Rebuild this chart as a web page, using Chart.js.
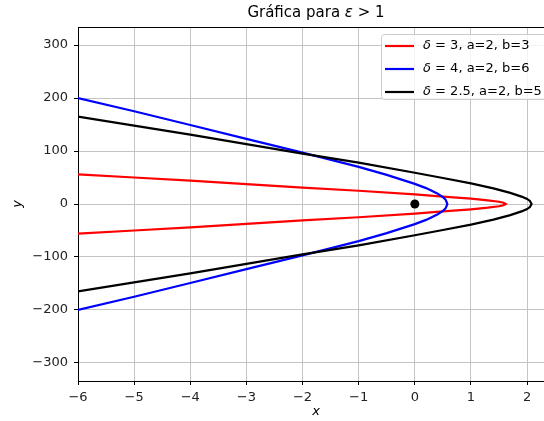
<!DOCTYPE html>
<html>
<head>
<meta charset="utf-8">
<title>Gráfica para ε > 1</title>
<script src="https://cdn.jsdelivr.net/npm/chart.js@4.4.1/dist/chart.umd.min.js"></script>
<style>
  html, body { margin: 0; padding: 0; background: #fff; overflow: hidden; }
  #wrap { width: 544px; height: 421px; overflow: hidden; }
  canvas { display: block; }
</style>
</head>
<body>
<!-- the plot runs past the right edge of the page, so the canvas is a bit wider than the frame -->
<div id="wrap"><canvas id="chart" width="549" height="421"></canvas></div>
<script>
// each curve: x samples from the left edge to the vertex, upper and lower branch
const redX      = [-6, -5, -4, -3, -2, -1, 0, 0.5, 1, 1.3, 1.5, 1.58, 1.62];
const redUpper  = [56, 50, 44, 37.5, 31, 25, 18, 14, 10, 7, 4.2, 2.4, 0];
const redLower  = [-56, -50, -44, -37.5, -31, -25, -18, -14, -10, -7, -4.2, -2.4, 0];

const blueX     = [-6, -5, -4, -3, -2, -1, -0.5, 0, 0.2, 0.4, 0.5, 0.55, 0.58];
const blueUpper = [200, 175, 149, 123, 97, 70, 55, 38, 30, 20, 13, 8, 0];
const blueLower = [-200, -175, -149, -123, -97, -70, -55, -38, -30, -20, -13, -8, 0];

const blackX     = [-6, -5, -4, -3, -2, -1, 0, 0.5, 1, 1.4, 1.7, 1.9, 2, 2.05, 2.08];
const blackUpper = [165, 148, 131, 113, 95, 78, 59, 49, 39, 29.5, 21, 14, 9.5, 5.7, 0];
const blackLower = [-165, -148, -131, -113, -95, -78, -59, -49, -39, -29.5, -21, -14, -9.5, -5.7, 0];

const focusX = [0];
const focusY = [0];

const legendValues = ['3, a=2, b=3', '4, a=2, b=6', '2.5, a=2, b=5'];
const legendColors = ['#ff0000', '#0000ff', '#000000'];

function curvePoints(xs, upper, lower) {
    const pts = xs.map((x, i) => ({ x: x, y: upper[i] }));
    for (let i = xs.length - 2; i >= 0; i--) pts.push({ x: xs[i], y: lower[i] });
    return pts;
}

const minus = v => v < 0 ? '\u2212' + Math.abs(v) : String(v);
const FONT = 'DejaVu Sans';
const AXES_MID = 316;

// top spine, title, axis labels and the legend box
const decorations = {
    id: 'decorations',
    beforeDatasetsDraw(chart) {
        const { ctx, chartArea: a } = chart;
        ctx.save();
        ctx.strokeStyle = '#000';
        ctx.lineWidth = 1;
        ctx.beginPath();
        ctx.moveTo(a.left, a.top + 0.5);
        ctx.lineTo(a.right, a.top + 0.5);
        ctx.stroke();
        ctx.restore();
    },
    afterDraw(chart) {
        const { ctx } = chart;
        ctx.save();
        ctx.textBaseline = 'middle';
        ctx.fillStyle = '#000';

        // title
        const parts = [
            { t: 'Gráfica para ', f: `15px "${FONT}"` },
            { t: 'ε', f: `italic 15px "${FONT}"` },
            { t: ' > 1', f: `15px "${FONT}"` }
        ];
        let total = 0;
        parts.forEach(p => { ctx.font = p.f; p.w = ctx.measureText(p.t).width; total += p.w; });
        let tx = AXES_MID - total / 2;
        ctx.textAlign = 'left';
        parts.forEach(p => { ctx.font = p.f; ctx.fillText(p.t, tx, 13); tx += p.w; });

        // axis labels
        ctx.font = `italic 13px "${FONT}"`;
        ctx.textAlign = 'center';
        ctx.fillText('x', AXES_MID, 412);
        ctx.save();
        ctx.translate(18, 204);
        ctx.rotate(-Math.PI / 2);
        ctx.fillText('y', 0, 0);
        ctx.restore();

        // legend
        const bx = 381.5, by = 34.5, bw = 170, bh = 65, r = 3;
        ctx.beginPath();
        ctx.roundRect(bx, by, bw, bh, r);
        ctx.fillStyle = 'rgba(255,255,255,0.8)';
        ctx.fill();
        ctx.strokeStyle = '#cccccc';
        ctx.lineWidth = 1;
        ctx.stroke();

        ctx.textAlign = 'left';
        legendValues.forEach((val, i) => {
            const cy = 46 + i * 23;
            ctx.strokeStyle = legendColors[i];
            ctx.lineWidth = 2.2;
            ctx.beginPath();
            ctx.moveTo(385, cy);
            ctx.lineTo(414, cy);
            ctx.stroke();
            ctx.fillStyle = '#000';
            ctx.font = `italic 13px "${FONT}"`;
            ctx.fillText('δ', 423, cy);
            const w = ctx.measureText('δ').width;
            ctx.font = `13px "${FONT}"`;
            ctx.fillText(' = ' + val, 423 + w, cy);
        });
        ctx.restore();
    }
};

const tickFont = { family: FONT, size: 13 };

new Chart(document.getElementById('chart'), {
    type: 'scatter',
    data: {
        datasets: [
            { label: 'red', data: curvePoints(redX, redUpper, redLower), showLine: true, borderColor: '#ff0000', borderWidth: 2.2, pointRadius: 0, order: 3 },
            { label: 'blue', data: curvePoints(blueX, blueUpper, blueLower), showLine: true, borderColor: '#0000ff', borderWidth: 2.2, pointRadius: 0, order: 2 },
            { label: 'black', data: curvePoints(blackX, blackUpper, blackLower), showLine: true, borderColor: '#000000', borderWidth: 2.2, pointRadius: 0, order: 1 },
            { label: 'focus', data: focusX.map((x, i) => ({ x: x, y: focusY[i] })), pointRadius: 4.5, backgroundColor: '#000', borderColor: '#000', borderWidth: 0, order: 0 }
        ]
    },
    options: {
        responsive: false,
        animation: false,
        devicePixelRatio: 1,
        layout: { padding: { top: 27, right: 0, bottom: 0, left: 0 } },
        plugins: { legend: { display: false }, tooltip: { enabled: false } },
        scales: {
            x: {
                type: 'linear', min: -6, max: 2.31,
                afterFit: s => { s.height = 40; },
                ticks: { stepSize: 1, includeBounds: false, padding: 5, color: '#222', font: tickFont, callback: minus, maxRotation: 0 },
                grid: { color: '#c4c4c4', lineWidth: 1, tickLength: 4, tickColor: '#000' },
                border: { color: '#000', width: 1 }
            },
            y: {
                type: 'linear', min: -334, max: 334,
                afterFit: s => { s.width = 78; },
                ticks: { stepSize: 100, includeBounds: false, padding: 6, color: '#222', font: tickFont, callback: minus },
                grid: { color: '#c4c4c4', lineWidth: 1, tickLength: 4, tickColor: '#000' },
                border: { color: '#000', width: 1 }
            }
        }
    },
    plugins: [decorations]
});
</script>
</body>
</html>
